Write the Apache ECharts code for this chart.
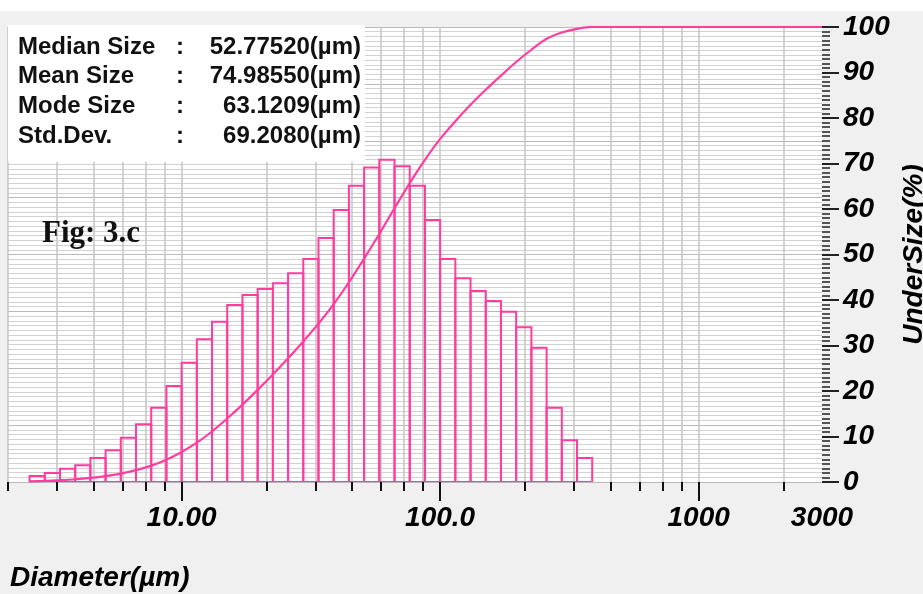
<!DOCTYPE html>
<html><head><meta charset="utf-8">
<script src="https://cdn.jsdelivr.net/npm/echarts@6/dist/echarts.min.js"></script>
<style>html,body{margin:0;padding:0;background:#f0f0f0}#c{width:923px;height:594px}</style>
</head><body><div id="c"></div>
<script>
// ---- data ----
const binEdges = [2.581, 2.955, 3.384, 3.875, 4.437, 5.080, 5.817, 6.661, 7.627, 8.733,
  10.00, 11.45, 13.11, 15.01, 17.19, 19.68, 22.54, 25.81, 29.55, 33.84,
  38.75, 44.37, 50.80, 58.17, 66.61, 76.27, 87.33, 100.0, 114.5, 131.1,
  150.1, 171.9, 196.8, 225.4, 258.1, 295.5, 338.4, 387.5];
const binValues = [1.3, 2.0, 2.9, 3.7, 5.3, 7.0, 9.7, 12.7, 16.3, 21.1,
  26.2, 31.4, 35.2, 38.9, 41.1, 42.4, 43.7, 45.9, 49.0, 53.6,
  59.8, 65.1, 69.1, 70.8, 69.4, 65.1, 57.6, 49.0, 44.8, 42.0,
  39.8, 37.4, 34.0, 29.5, 16.3, 9.2, 5.3];
const cumSizes = [2.581, 2.955, 3.384, 3.875, 4.437, 5.080, 5.817, 6.661, 7.627, 8.733,
  10.00, 11.45, 13.11, 15.01, 17.19, 19.68, 22.54, 25.81, 29.55, 33.84,
  38.75, 44.37, 50.80, 58.17, 66.61, 76.27, 87.33, 100.0, 114.5, 131.1,
  150.1, 171.9, 196.8, 225.4, 258.1, 295.5, 338.4, 387.5, 3000];
const cumValues = [0.15, 0.25, 0.4, 0.6, 0.9, 1.3, 1.85, 2.6, 3.6, 4.9,
  6.6, 8.65, 11.1, 13.95, 17.0, 20.25, 23.65, 27.2, 30.9, 34.8,
  39.1, 43.9, 49.1, 54.5, 60.2, 65.7, 70.8, 75.4, 79.3, 82.9,
  86.2, 89.3, 92.3, 95.0, 97.4, 98.8, 99.6, 100, 100];
const xMinorTicks = [2.13, 3.3, 4.56, 5.9, 7.24, 8.59, 21.3, 33, 45.6, 59, 72.4, 85.9,
  213, 330, 456, 590, 724, 859, 2130];
const xMajorTicks = [10, 100, 1000];
const xLabelValues = [10, 100, 1000, 3000];
const xLabelTexts = ['10.00', '100.0', '1000', '3000'];
const statLabels = ['Median Size', 'Mean Size', 'Mode Size', 'Std.Dev.'];
const statValues = ['52.77520(µm)', '74.98550(µm)', '63.1209(µm)', '69.2080(µm)'];
const figLabel = 'Fig: 3.c';
const xName = 'Diameter(µm)';
const yName = 'UnderSize(%)';

// ---- chart ----
const PINK = '#ff3d9e';
const chart = echarts.init(document.getElementById('c'), null, {renderer: 'canvas'});
const axisFont = {fontFamily: 'Liberation Sans, Arial, sans-serif', fontWeight: 'bold', fontStyle: 'italic', fontSize: 28, color: '#000'};
const histData = binValues.map((v, i) => [binEdges[i], binEdges[i + 1], v]);
const cumData = cumSizes.map((s, i) => [s, cumValues[i]]);
const allTicks = xMinorTicks.concat(xMajorTicks).sort((a, b) => a - b);

const graphics = [
  {type: 'rect', shape: {x: 0, y: 0, width: 923, height: 11}, style: {fill: '#ffffff'}, z: 100},
  {type: 'rect', shape: {x: 8, y: 25, width: 357, height: 137}, style: {fill: '#ffffff'}, z: 100},
  {type: 'text', x: 42, y: 234, z: 101, style: {text: figLabel, font: 'bold 31px "Liberation Serif", "Times New Roman", serif', fill: '#111', verticalAlign: 'middle'}},
  {type: 'text', x: 10, y: 578, z: 101, style: {text: xName, font: 'italic bold 28px "Liberation Sans", Arial, sans-serif', fill: '#000', verticalAlign: 'middle'}}
];
const rowsY = [47, 76, 106, 136];
statLabels.forEach((t, i) => {
  graphics.push({type: 'text', x: 18, y: rowsY[i], z: 101, style: {text: t, font: 'bold 24px "Liberation Sans", Arial, sans-serif', fill: '#111', verticalAlign: 'middle'}});
  graphics.push({type: 'text', x: 180, y: rowsY[i], z: 101, style: {text: ':', font: 'bold 24px "Liberation Sans", Arial, sans-serif', fill: '#111', verticalAlign: 'middle', align: 'center'}});
  graphics.push({type: 'text', x: 361, y: rowsY[i], z: 101, style: {text: statValues[i], font: 'bold 24px "Liberation Sans", Arial, sans-serif', fill: '#111', verticalAlign: 'middle', align: 'right'}});
});

chart.setOption({
  animation: false,
  backgroundColor: '#f0f0f0',
  grid: {left: 8, right: 101, top: 27, bottom: 112, show: true, backgroundColor: '#ffffff', borderWidth: 0,
    containLabel: false, outerBoundsMode: 'none'},
  xAxis: [{
    type: 'log', min: 2.13, max: 3000, position: 'bottom',
    axisLine: {show: false},
    axisTick: {show: true, customValues: allTicks, length: 9, lineStyle: {color: '#111', width: 2}},
    axisLabel: {show: true, customValues: xLabelValues, margin: 22, ...axisFont,
      formatter: function (v) {
        for (let i = 0; i < xLabelValues.length; i++) {
          if (Math.abs(xLabelValues[i] - v) / xLabelValues[i] < 1e-4) return xLabelTexts[i];
        }
        return '';
      }},
    splitLine: {show: true, lineStyle: {color: '#c4c4c4', width: 1.5}},
    minorTick: {show: false}, minorSplitLine: {show: false}
  }, {
    type: 'log', min: 2.13, max: 3000, position: 'bottom',
    axisLine: {show: false},
    axisTick: {show: true, customValues: xMajorTicks, length: 19, lineStyle: {color: '#111', width: 2}},
    axisLabel: {show: false},
    splitLine: {show: false}
  }],
  yAxis: [{
    type: 'value', min: 0, max: 100, interval: 10, position: 'right',
    name: yName, nameLocation: 'middle', nameRotate: 90, nameGap: 76,
    nameTextStyle: {...axisFont},
    axisLine: {show: false},
    axisTick: {show: true, length: 17, lineStyle: {color: '#222', width: 2}},
    minorTick: {show: true, splitNumber: 10, length: 8, lineStyle: {color: '#222', width: 1.5}},
    axisLabel: {show: true, margin: 21, ...axisFont},
    splitLine: {show: false}
  }, {
    type: 'value', min: 0, max: 100, interval: 12.5, position: 'left',
    axisLine: {show: false}, axisTick: {show: false}, axisLabel: {show: false},
    splitLine: {show: true, lineStyle: {color: '#b9b9b9', width: 1.2}},
    minorTick: {show: false, splitNumber: 12},
    minorSplitLine: {show: true, lineStyle: {color: '#d2d2d2', width: 1.2}}
  }],
  series: [{
    type: 'custom', xAxisIndex: 0, yAxisIndex: 0, clip: true, z: 3,
    encode: {x: [0, 1], y: 2},
    data: histData,
    renderItem: function (params, api) {
      const p0 = api.coord([api.value(0), 0]);
      const p1 = api.coord([api.value(1), api.value(2)]);
      return {type: 'rect', shape: {x: p0[0], y: p1[1], width: p1[0] - p0[0], height: p0[1] - p1[1]},
        style: {fill: 'transparent', stroke: PINK, lineWidth: 2}};
    }
  }, {
    type: 'line', xAxisIndex: 0, yAxisIndex: 0, z: 4,
    data: cumData, showSymbol: false, smooth: 0.3,
    lineStyle: {color: PINK, width: 2.2}
  }],
  graphic: graphics
});
</script>
</body></html>
